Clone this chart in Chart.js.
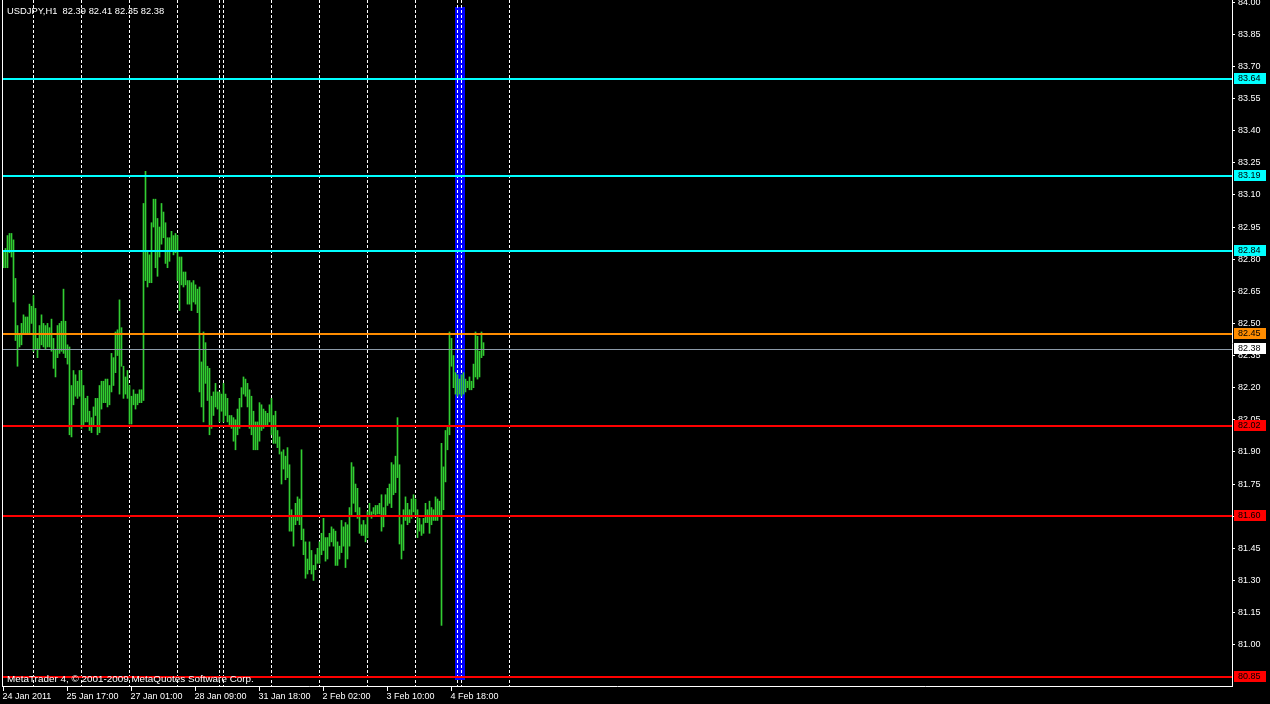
<!DOCTYPE html>
<html>
<head>
<meta charset="utf-8">
<title>USDJPY,H1</title>
<script src="https://cdn.jsdelivr.net/npm/chart.js@4.4.0/dist/chart.umd.min.js"></script>
<style>
  html, body { margin: 0; padding: 0; background: #000; overflow: hidden; }
  #wrap { width: 1270px; height: 704px; }
</style>
</head>
<body>
<div id="wrap"><canvas id="chart" width="1270" height="704"></canvas></div>
<script>
// H1 bars, 24 Jan 2011 09:00 onwards (high / low)
const highs = [
  82.84, 82.85, 82.91, 82.92, 82.92, 82.89, 82.71, 82.49, 82.45, 82.50,
  82.54, 82.53, 82.53, 82.59, 82.58, 82.63, 82.57, 82.43, 82.49, 82.54,
  82.50, 82.49, 82.50, 82.48, 82.52, 82.43, 82.38, 82.49, 82.50, 82.51,
  82.66, 82.51, 82.40, 82.39, 82.21, 82.28, 82.26, 82.23, 82.28, 82.28,
  82.21, 82.15, 82.16, 82.09, 82.06, 82.11, 82.15, 82.15, 82.21, 82.23,
  82.23, 82.24, 82.24, 82.21, 82.36, 82.34, 82.46, 82.47, 82.61, 82.48,
  82.30, 82.25, 82.28, 82.21, 82.16, 82.19, 82.17, 82.17, 82.19, 82.19,
  83.06, 83.21, 82.84, 82.82, 82.97, 83.08, 83.08, 82.99, 82.95, 83.06,
  83.02, 82.97, 82.90, 82.90, 82.93, 82.91, 82.92, 82.91, 82.81, 82.81,
  82.74, 82.74, 82.70, 82.70, 82.69, 82.70, 82.68, 82.66, 82.67, 82.32,
  82.46, 82.41, 82.30, 82.29, 82.16, 82.18, 82.22, 82.18, 82.18, 82.17,
  82.22, 82.17, 82.15, 82.07, 82.07, 82.06, 82.05, 82.10, 82.15, 82.20,
  82.25, 82.24, 82.22, 82.19, 82.16, 82.09, 82.04, 82.04, 82.13, 82.12,
  82.10, 82.09, 82.08, 82.12, 82.15, 82.07, 82.09, 82.00, 81.97, 81.90,
  81.91, 81.88, 81.92, 81.84, 81.63, 81.60, 81.66, 81.69, 81.68, 81.91,
  81.54, 81.48, 81.40, 81.48, 81.44, 81.37, 81.42, 81.45, 81.48, 81.52,
  81.59, 81.50, 81.50, 81.52, 81.55, 81.54, 81.53, 81.48, 81.46, 81.58,
  81.55, 81.57, 81.56, 81.64, 81.85, 81.83, 81.75, 81.73, 81.64, 81.56,
  81.58, 81.56, 81.62, 81.66, 81.62, 81.64, 81.65, 81.65, 81.66, 81.70,
  81.64, 81.70, 81.73, 81.75, 81.85, 81.84, 81.88, 82.06, 81.84, 81.56,
  81.63, 81.69, 81.66, 81.63, 81.68, 81.70, 81.68, 81.63, 81.59, 81.56,
  81.59, 81.66, 81.63, 81.67, 81.64, 81.63, 81.69, 81.68, 81.67, 81.94,
  81.83, 82.00, 82.02, 82.46, 82.43, 82.35, 82.27, 82.26, 82.24, 82.26,
  82.27, 82.24, 82.23, 82.25, 82.23, 82.31, 82.46, 82.44, 82.37, 82.46,
  82.41
];
const lows = [
  82.76, 82.76, 82.76, 82.83, 82.81, 82.60, 82.42, 82.30, 82.39, 82.40,
  82.45, 82.45, 82.45, 82.45, 82.50, 82.37, 82.38, 82.34, 82.38, 82.40,
  82.39, 82.38, 82.39, 82.39, 82.37, 82.29, 82.25, 82.34, 82.36, 82.37,
  82.36, 82.34, 82.31, 81.98, 81.97, 82.12, 82.16, 82.15, 82.16, 82.01,
  82.02, 82.04, 82.04, 82.00, 81.99, 82.02, 82.07, 81.98, 81.99, 82.10,
  82.13, 82.13, 82.11, 82.12, 82.18, 82.21, 82.27, 82.35, 82.17, 82.30,
  82.15, 82.17, 82.15, 82.03, 82.03, 82.12, 82.10, 82.12, 82.13, 82.13,
  82.14, 82.70, 82.67, 82.69, 82.69, 82.95, 82.76, 82.72, 82.81, 82.87,
  82.90, 82.78, 82.76, 82.79, 82.84, 82.82, 82.83, 82.70, 82.56, 82.68,
  82.67, 82.68, 82.59, 82.59, 82.56, 82.60, 82.59, 82.55, 82.18, 82.11,
  82.04, 82.22, 82.14, 81.98, 82.01, 82.07, 82.11, 82.10, 82.04, 82.09,
  82.04, 82.07, 82.04, 82.02, 82.01, 81.95, 81.91, 81.98, 82.01, 82.11,
  82.17, 82.16, 82.11, 82.01, 81.98, 81.91, 81.91, 81.91, 81.95, 82.00,
  82.01, 82.02, 82.02, 82.04, 81.98, 81.94, 81.94, 81.92, 81.89, 81.75,
  81.82, 81.77, 81.78, 81.53, 81.53, 81.46, 81.56, 81.58, 81.56, 81.49,
  81.42, 81.31, 81.33, 81.35, 81.33, 81.30, 81.35, 81.38, 81.38, 81.42,
  81.44, 81.39, 81.40, 81.46, 81.48, 81.46, 81.37, 81.37, 81.40, 81.43,
  81.46, 81.36, 81.40, 81.46, 81.60, 81.66, 81.62, 81.59, 81.52, 81.51,
  81.51, 81.48, 81.50, 81.60, 81.59, 81.61, 81.60, 81.61, 81.61, 81.53,
  81.55, 81.60, 81.65, 81.66, 81.64, 81.70, 81.71, 81.78, 81.47, 81.40,
  81.44, 81.58, 81.56, 81.57, 81.59, 81.62, 81.60, 81.50, 81.53, 81.51,
  81.52, 81.57, 81.57, 81.52, 81.56, 81.58, 81.58, 81.58, 81.60, 81.09,
  81.63, 81.76, 81.91, 81.98, 82.30, 82.20, 82.17, 82.16, 82.17, 82.16,
  82.17, 82.18, 82.20, 82.19, 82.19, 82.20, 82.25, 82.24, 82.25, 82.34,
  82.35
];

// time axis (bar index -> label)
const timeTicks = [0, 32, 64, 96, 128, 160, 192, 224];
const timeLabels = ['24 Jan 2011', '25 Jan 17:00', '27 Jan 01:00', '28 Jan 09:00',
                    '31 Jan 18:00', '2 Feb 02:00', '3 Feb 10:00', '4 Feb 18:00'];
// day separators (bar index of first bar of each day)
const daySeparators = [15, 39, 63, 87, 108, 110, 134, 158, 182, 206, 227, 229, 253];
// vertical highlight (bar index range)
const highlightBars = [226, 230];

// price axis
const priceTicks = [84.00, 83.85, 83.70, 83.55, 83.40, 83.25, 83.10, 82.95, 82.80, 82.65,
                    82.50, 82.35, 82.20, 82.05, 81.90, 81.75, 81.60, 81.45, 81.30, 81.15, 81.00];
const cyanLevels = [83.64, 83.19, 82.84];
const orangeLevels = [82.45];
const redLevels = [82.02, 81.60, 80.85];
const bidPrice = 82.38;

const header = 'USDJPY,H1  82.39 82.41 82.35 82.38';
const footer = 'MetaTrader 4, \u00A9 2001-2009 MetaQuotes Software Corp.';

const FAMILY = '"Liberation Sans", Arial, sans-serif';

const barData = highs.map((h, i) => ({ x: i, y: [lows[i], h] }));

const mtPlugin = {
  id: 'mt',
  beforeDatasetsDraw(chart) {
    const { ctx, chartArea: a, scales: { x } } = chart;
    ctx.save();
    // blue vertical band
    const bx0 = x.getPixelForValue(highlightBars[0]) - 0.5;
    const bx1 = x.getPixelForValue(highlightBars[1]) + 1.5;
    ctx.fillStyle = '#0000ff';
    ctx.fillRect(bx0, a.top + 7, bx1 - bx0, a.bottom - a.top - 13);
    // period separators
    ctx.strokeStyle = '#ffffff';
    ctx.lineWidth = 1;
    ctx.setLineDash([3, 2]);
    daySeparators.forEach(s => {
      const px = x.getPixelForValue(s);
      ctx.beginPath();
      ctx.moveTo(px, a.top);
      ctx.lineTo(px, a.bottom);
      ctx.stroke();
    });
    ctx.restore();
  },
  afterDatasetsDraw(chart) {
    const { ctx, chartArea: a, scales: { y } } = chart;
    ctx.save();
    const hline = (p, color, w) => {
      const py = Math.round(y.getPixelForValue(p));
      ctx.fillStyle = color;
      ctx.fillRect(a.left + 1, w === 2 ? py - 1 : py, a.right - a.left - 1, w);
    };
    hline(bidPrice, '#8c9aa8', 1);
    cyanLevels.forEach(p => hline(p, '#00ffff', 2));
    orangeLevels.forEach(p => hline(p, '#ff8c00', 2));
    redLevels.forEach(p => hline(p, '#ff0000', 2));
    ctx.restore();
  },
  afterDraw(chart) {
    const { ctx, chartArea: a, scales: { y } } = chart;
    ctx.save();
    // left border
    ctx.fillStyle = '#ffffff';
    ctx.fillRect(a.left, 0, 1, a.bottom + 1);

    // price tags on the axis
    ctx.font = '9px ' + FAMILY;
    ctx.textBaseline = 'middle';
    ctx.textAlign = 'left';
    const tag = (p, bg, fg) => {
      const py = Math.round(y.getPixelForValue(p));
      ctx.fillStyle = bg;
      ctx.fillRect(a.right + 2, py - 6, 32, 11);
      ctx.fillStyle = fg;
      ctx.fillText(p.toFixed(2), a.right + 6, py);
    };
    cyanLevels.forEach(p => tag(p, '#00ffff', '#000000'));
    orangeLevels.forEach(p => tag(p, '#ff8c00', '#000000'));
    tag(bidPrice, '#ffffff', '#000000');
    redLevels.forEach(p => tag(p, '#ff0000', '#000000'));

    // texts
    ctx.fillStyle = '#ffffff';
    ctx.font = '9.4px ' + FAMILY;
    ctx.fillText(header, a.left + 5, 11);
    ctx.font = '9.9px ' + FAMILY;
    ctx.fillText(footer, a.left + 5, 679);
    ctx.restore();
  }
};

new Chart(document.getElementById('chart'), {
  type: 'bar',
  data: {
    datasets: [{
      data: barData,
      backgroundColor: '#32cd32',
      borderWidth: 0,
      barThickness: 1,
      grouped: false
    }]
  },
  options: {
    responsive: false,
    animation: false,
    devicePixelRatio: 1,
    layout: { padding: { left: 2, top: 0, right: 0, bottom: 0 } },
    plugins: { legend: { display: false }, tooltip: { enabled: false } },
    scales: {
      x: {
        type: 'linear',
        position: 'bottom',
        min: -0.75,
        max: 614.25,
        offset: false,
        afterBuildTicks: s => { s.ticks = timeTicks.map(v => ({ value: v })); },
        afterFit: s => { s.height = 18; s.paddingLeft = 0; s.paddingRight = 0; },
        ticks: {
          autoSkip: false,
          maxRotation: 0,
          align: 'start',
          padding: 0,
          labelOffset: -1,
          color: '#ffffff',
          font: { family: FAMILY, size: 9 },
          callback: v => timeLabels[timeTicks.indexOf(v)]
        },
        grid: { display: true, drawOnChartArea: false, drawTicks: true, tickLength: 5, color: '#ffffff', offset: false },
        border: { display: true, color: '#ffffff' }
      },
      y: {
        type: 'linear',
        position: 'right',
        min: 80.807,
        max: 84.01,
        afterBuildTicks: s => { s.ticks = priceTicks.map(v => ({ value: v })); },
        afterFit: s => { s.width = 38; s.paddingTop = 0; s.paddingBottom = 0; },
        ticks: {
          padding: 3,
          color: '#ffffff',
          font: { family: FAMILY, size: 9 },
          callback: v => v.toFixed(2)
        },
        grid: { display: true, drawOnChartArea: false, drawTicks: true, tickLength: 3, color: '#ffffff' },
        border: { display: true, color: '#ffffff' }
      }
    }
  },
  plugins: [mtPlugin]
});
</script>
</body>
</html>
